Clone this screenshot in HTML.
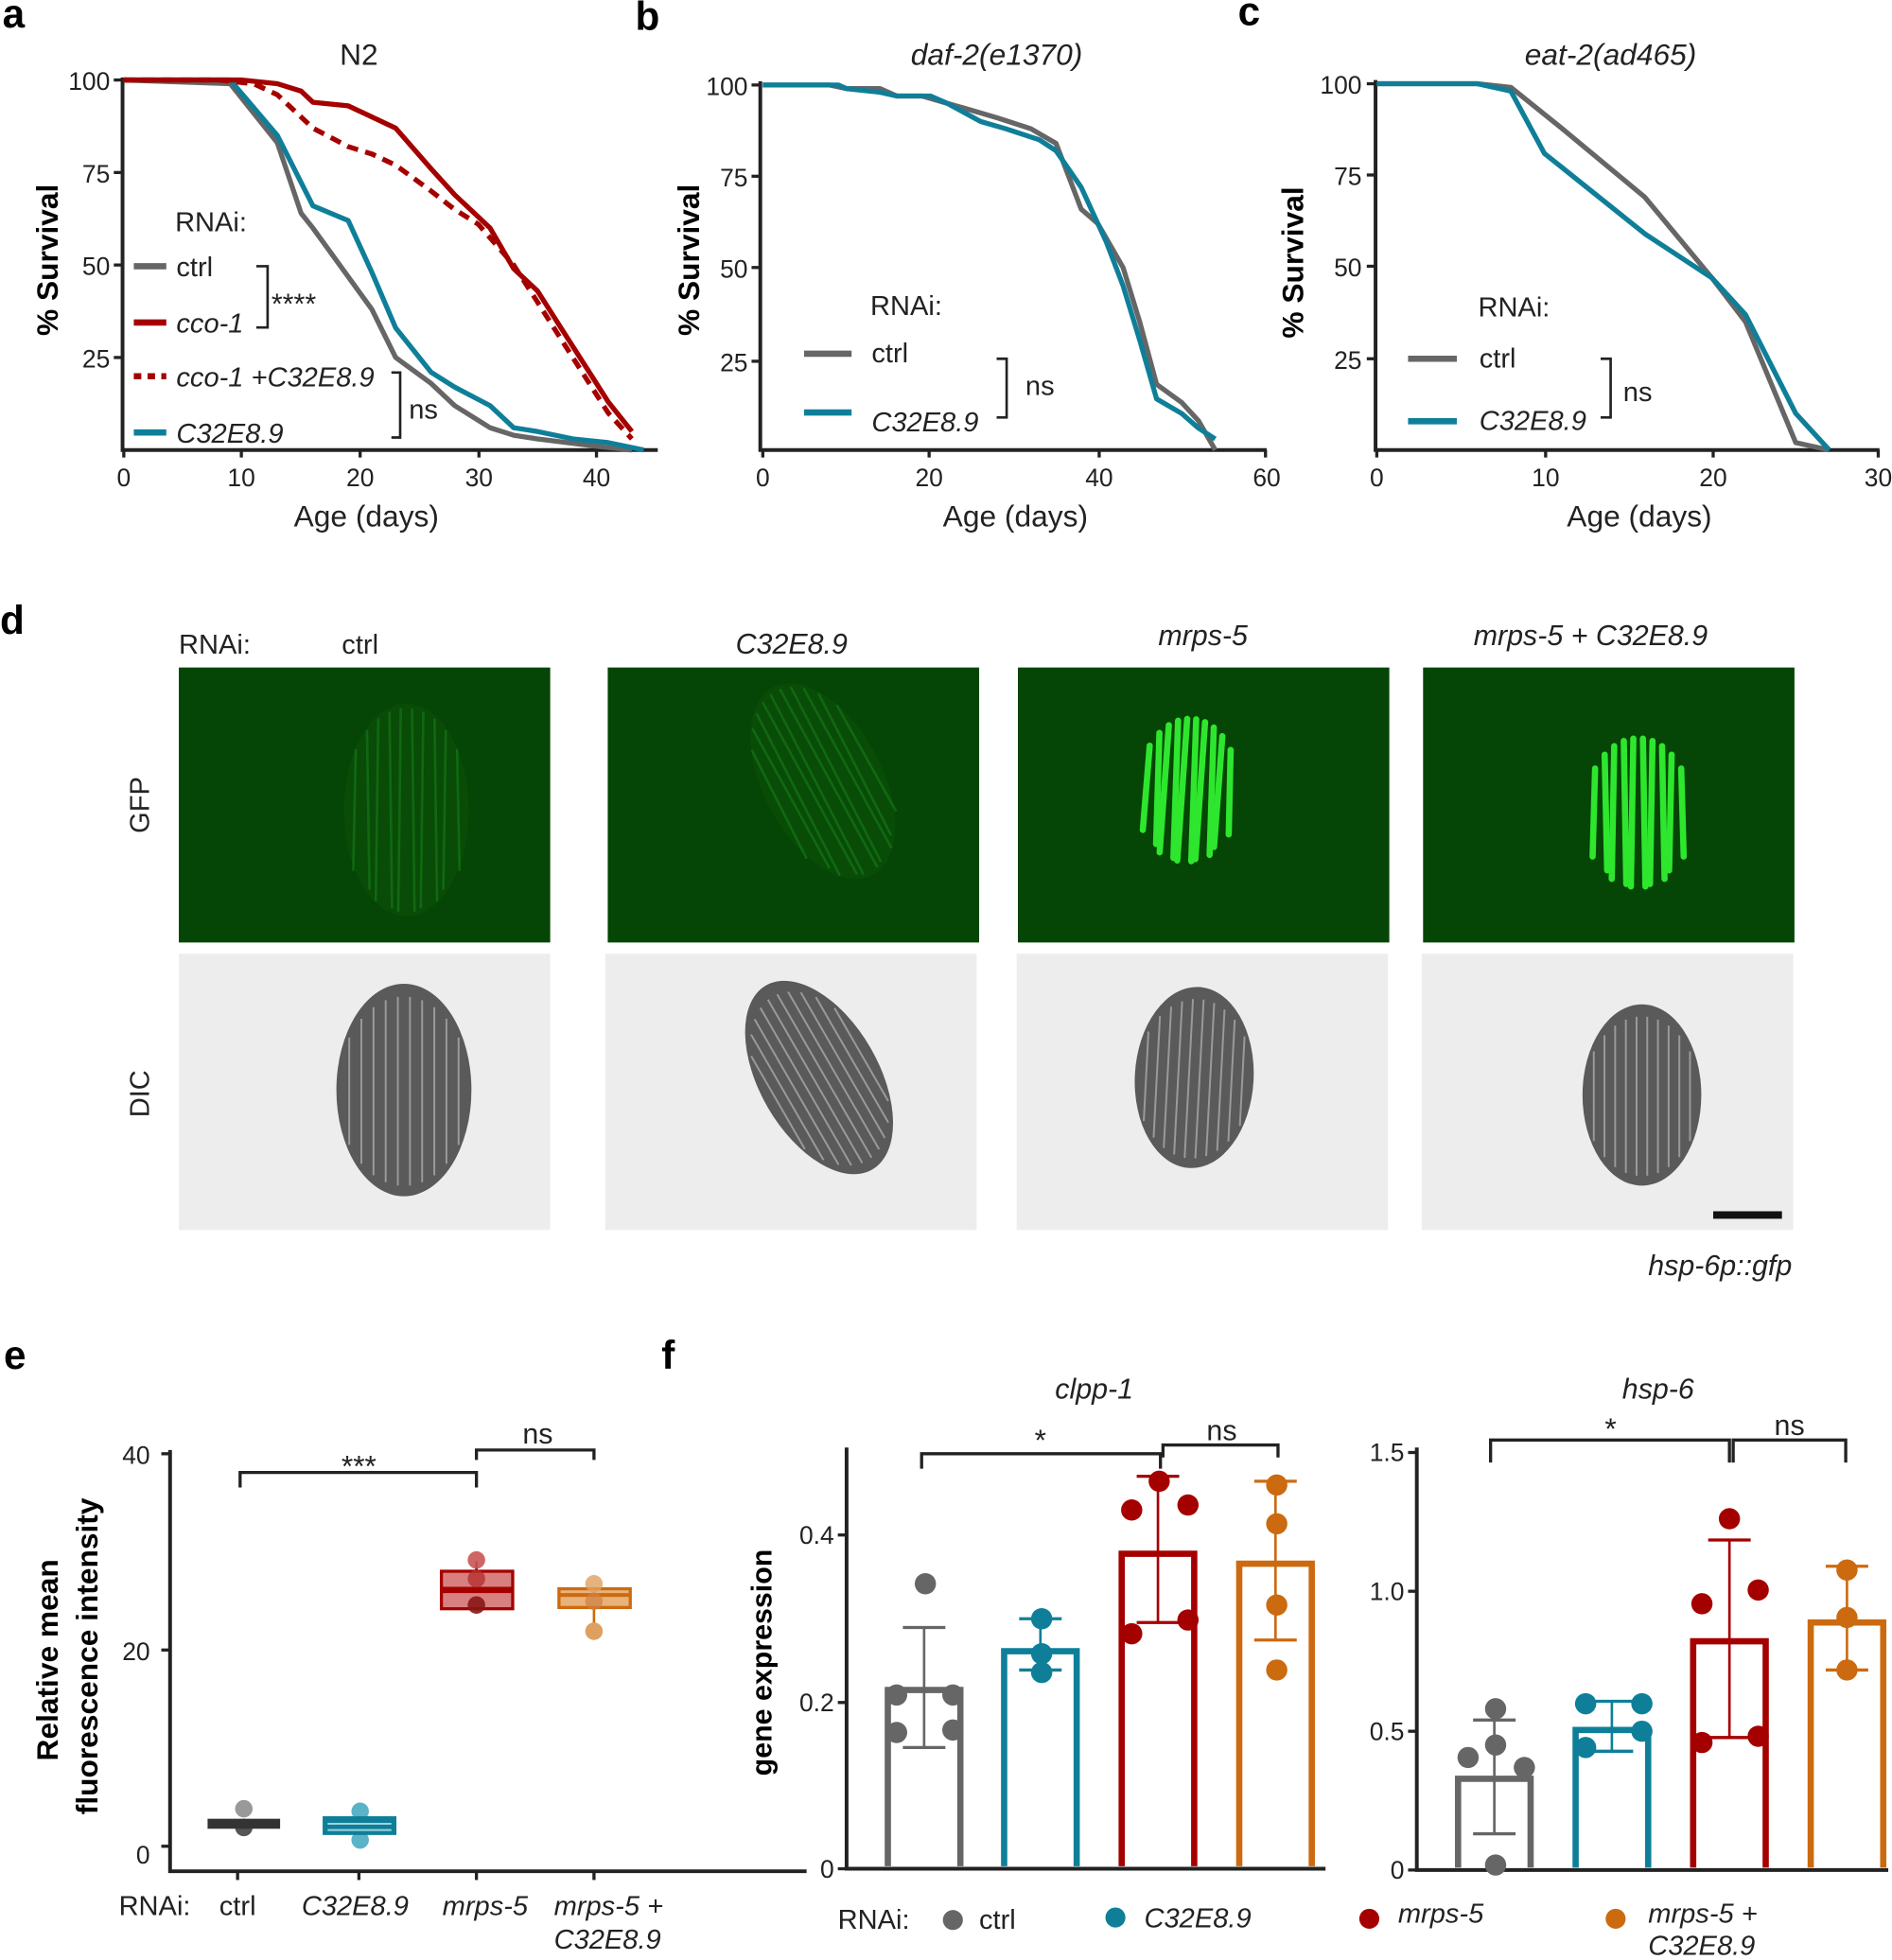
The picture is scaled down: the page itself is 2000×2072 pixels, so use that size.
<!DOCTYPE html>
<html><head><meta charset="utf-8"><style>
html,body{margin:0;padding:0;background:#fff;}
svg{display:block;}
text{font-family:"Liberation Sans",Arial,sans-serif;fill:#222;}
.t{font-size:20px;}
.ax{font-size:24px;}
.lab{font-size:32px;font-weight:bold;fill:#000;}
.it{font-style:italic;}
</style></head><body>
<svg id="s" width="2000" height="2072" viewBox="0 0 1513 1568" preserveAspectRatio="none" xmlns="http://www.w3.org/2000/svg">
<text class="lab" x="2" y="22">a</text>
<text class="lab" x="508" y="24">b</text>
<text class="lab" x="990" y="20">c</text>
<text class="lab" x="0" y="507">d</text>
<text class="lab" x="3" y="1095">e</text>
<text class="lab" x="529" y="1095">f</text>

<g id="pa">
<text class="ax" x="287" y="52" text-anchor="middle">N2</text>
<path d="M98,62 V360 H526" fill="none" stroke="#222" stroke-width="3"/>
<g stroke="#222" stroke-width="2.5"><line x1="91" y1="64" x2="98" y2="64"/><line x1="91" y1="138" x2="98" y2="138"/><line x1="91" y1="212" x2="98" y2="212"/><line x1="91" y1="286" x2="98" y2="286"/>
<line x1="99" y1="360" x2="99" y2="366"/><line x1="193" y1="360" x2="193" y2="366"/><line x1="288" y1="360" x2="288" y2="366"/><line x1="383" y1="360" x2="383" y2="366"/><line x1="477" y1="360" x2="477" y2="366"/></g>
<g class="t" text-anchor="end"><text x="88" y="72">100</text><text x="88" y="146">75</text><text x="88" y="220">50</text><text x="88" y="294">25</text></g>
<g class="t" text-anchor="middle"><text x="99" y="389">0</text><text x="193" y="389">10</text><text x="288" y="389">20</text><text x="383" y="389">30</text><text x="477" y="389">40</text></g>
<text class="ax" x="293" y="421" text-anchor="middle">Age (days)</text>
<text class="ax" x="0" y="0" transform="translate(46,208) rotate(-90)" text-anchor="middle" font-weight="bold" style="fill:#000">% Survival</text>
<text x="140" y="185" style="font-size:22px">RNAi:</text>
<line x1="107" y1="213" x2="133" y2="213" stroke="#666" stroke-width="5"/>
<line x1="107" y1="258" x2="133" y2="258" stroke="#a50000" stroke-width="5"/>
<line x1="107" y1="301" x2="133" y2="301" stroke="#a50000" stroke-width="5" stroke-dasharray="6,5"/>
<line x1="107" y1="346" x2="133" y2="346" stroke="#0f7f99" stroke-width="5"/>
<g style="font-size:22px"><text x="141" y="221">ctrl</text><text class="it" x="141" y="266">cco-1</text><text class="it" x="141" y="309">cco-1 +C32E8.9</text><text class="it" x="141" y="354">C32E8.9</text></g>
<path d="M205,213 H214 V262 H205" fill="none" stroke="#222" stroke-width="2"/>
<text x="217" y="251" style="font-size:23px">****</text>
<path d="M313,298 H320 V350 H313" fill="none" stroke="#222" stroke-width="2"/>
<text x="327" y="335" style="font-size:22px">ns</text>
</g>

<g>
<text class="ax it" x="797" y="52" text-anchor="middle">daf-2(e1370)</text>
<path d="M608,65 V360 H1013" fill="none" stroke="#222" stroke-width="3"/>
<g stroke="#222" stroke-width="2.5"><line x1="601" y1="68" x2="608" y2="68"/><line x1="601" y1="141" x2="608" y2="141"/><line x1="601" y1="214" x2="608" y2="214"/><line x1="601" y1="289" x2="608" y2="289"/>
<line x1="610" y1="360" x2="610" y2="366"/><line x1="743" y1="360" x2="743" y2="366"/><line x1="879" y1="360" x2="879" y2="366"/><line x1="1012" y1="360" x2="1012" y2="366"/></g>
<g class="t" text-anchor="end"><text x="598" y="76">100</text><text x="598" y="149">75</text><text x="598" y="222">50</text><text x="598" y="297">25</text></g>
<g class="t" text-anchor="middle"><text x="610" y="389">0</text><text x="743" y="389">20</text><text x="879" y="389">40</text><text x="1013" y="389">60</text></g>
<text class="ax" x="812" y="421" text-anchor="middle">Age (days)</text>
<text class="ax" x="0" y="0" transform="translate(559,208) rotate(-90)" text-anchor="middle" font-weight="bold" style="fill:#000">% Survival</text>
<text x="696" y="252" style="font-size:22px">RNAi:</text>
<line x1="643" y1="283" x2="681" y2="283" stroke="#666" stroke-width="5"/>
<line x1="643" y1="330" x2="681" y2="330" stroke="#0f7f99" stroke-width="5"/>
<text x="697" y="290" style="font-size:22px">ctrl</text><text class="it" x="697" y="345" style="font-size:22px">C32E8.9</text>
<path d="M797,287 H805 V334 H797" fill="none" stroke="#222" stroke-width="2"/>
<text x="820" y="316" style="font-size:22px">ns</text>
</g>

<g>
<text class="ax it" x="1288" y="52" text-anchor="middle">eat-2(ad465)</text>
<path d="M1100,64 V360 H1503" fill="none" stroke="#222" stroke-width="3"/>
<g stroke="#222" stroke-width="2.5"><line x1="1093" y1="67" x2="1100" y2="67"/><line x1="1093" y1="140" x2="1100" y2="140"/><line x1="1093" y1="213" x2="1100" y2="213"/><line x1="1093" y1="287" x2="1100" y2="287"/>
<line x1="1101" y1="360" x2="1101" y2="366"/><line x1="1236" y1="360" x2="1236" y2="366"/><line x1="1370" y1="360" x2="1370" y2="366"/><line x1="1502" y1="360" x2="1502" y2="366"/></g>
<g class="t" text-anchor="end"><text x="1089" y="75">100</text><text x="1089" y="148">75</text><text x="1089" y="221">50</text><text x="1089" y="295">25</text></g>
<g class="t" text-anchor="middle"><text x="1101" y="389">0</text><text x="1236" y="389">10</text><text x="1370" y="389">20</text><text x="1502" y="389">30</text></g>
<text class="ax" x="1311" y="421" text-anchor="middle">Age (days)</text>
<text class="ax" x="0" y="0" transform="translate(1042,210) rotate(-90)" text-anchor="middle" font-weight="bold" style="fill:#000">% Survival</text>
<text x="1182" y="253" style="font-size:22px">RNAi:</text>
<line x1="1126" y1="287" x2="1165" y2="287" stroke="#666" stroke-width="5"/>
<line x1="1126" y1="337" x2="1165" y2="337" stroke="#0f7f99" stroke-width="5"/>
<text x="1183" y="294" style="font-size:22px">ctrl</text><text class="it" x="1183" y="344" style="font-size:22px">C32E8.9</text>
<path d="M1280,287 H1288 V334 H1280" fill="none" stroke="#222" stroke-width="2"/>
<text x="1298" y="321" style="font-size:22px">ns</text>
</g>
<g id="curves"></g>

<text x="143" y="523" style="font-size:22px">RNAi:</text>
<text x="288" y="523" text-anchor="middle" style="font-size:22px">ctrl</text>
<text class="it" x="633" y="523" text-anchor="middle" style="font-size:23px">C32E8.9</text>
<text class="it" x="962" y="516" text-anchor="middle" style="font-size:23px">mrps-5</text>
<text class="it" x="1272" y="516" text-anchor="middle" style="font-size:23px">mrps-5 + C32E8.9</text>
<text x="0" y="0" transform="translate(119,644) rotate(-90)" text-anchor="middle" style="font-size:22px">GFP</text>
<text x="0" y="0" transform="translate(119,875) rotate(-90)" text-anchor="middle" style="font-size:22px">DIC</text>
<g id="imgs"></g>
<rect x="1370" y="969" width="55" height="6" fill="#111"/>
<text class="it" x="1433" y="1020" text-anchor="end" style="font-size:23px">hsp-6p::gfp</text>

<g>
<path d="M136,1160 V1497 H645" fill="none" stroke="#222" stroke-width="3"/>
<g stroke="#222" stroke-width="2.5"><line x1="129" y1="1163" x2="136" y2="1163"/><line x1="129" y1="1320" x2="136" y2="1320"/><line x1="129" y1="1477" x2="136" y2="1477"/>
<line x1="190" y1="1497" x2="190" y2="1504"/><line x1="287" y1="1497" x2="287" y2="1504"/><line x1="381" y1="1497" x2="381" y2="1504"/><line x1="475" y1="1497" x2="475" y2="1504"/></g>
<g class="t" text-anchor="end"><text x="120" y="1171">40</text><text x="120" y="1328">20</text><text x="120" y="1491">0</text></g>
<text x="0" y="0" transform="translate(46,1328) rotate(-90)" text-anchor="middle" font-weight="bold" style="font-size:24px;fill:#000">Relative mean</text>
<text x="0" y="0" transform="translate(78,1325) rotate(-90)" text-anchor="middle" font-weight="bold" style="font-size:24px;fill:#000">fluorescence intensity</text>
<g style="font-size:22px"><text x="95" y="1532">RNAi:</text><text x="190" y="1532" text-anchor="middle">ctrl</text>
<text class="it" x="284" y="1532" text-anchor="middle">C32E8.9</text><text class="it" x="388" y="1532" text-anchor="middle">mrps-5</text>
<text class="it" x="443" y="1532">mrps-5 +</text><text class="it" x="443" y="1559">C32E8.9</text></g>
<circle cx="195" cy="1447" r="7" fill="#999"/><circle cx="195" cy="1462" r="7" fill="#555"/>
<rect x="166" y="1455" width="58" height="8" fill="#333"/>
<circle cx="288" cy="1449" r="7" fill="#5ab3c6"/><circle cx="288" cy="1472" r="7" fill="#5ab3c6"/>
<rect x="259" y="1454" width="57" height="13" fill="#0f7f99" stroke="#0f7f99" stroke-width="2"/>
<line x1="262" y1="1459" x2="313" y2="1459" stroke="#9fd3df" stroke-width="1.5"/><line x1="262" y1="1464" x2="313" y2="1464" stroke="#9fd3df" stroke-width="1.5"/>
<rect x="353" y="1257" width="57" height="30" fill="#d88080" stroke="#a50000" stroke-width="2.5"/>
<line x1="381" y1="1249" x2="381" y2="1257" stroke="#a50000" stroke-width="2"/>
<line x1="353" y1="1272" x2="410" y2="1272" stroke="#a50000" stroke-width="5"/>
<circle cx="381" cy="1248" r="7" fill="#c95555" opacity="0.9"/><circle cx="381" cy="1263" r="7" fill="#b53030" opacity="0.8"/><circle cx="381" cy="1284" r="7" fill="#8a1515" opacity="0.9"/>
<rect x="447" y="1271" width="57" height="15" fill="#e8b27a" stroke="#cc6a10" stroke-width="2.5"/>
<line x1="447" y1="1276" x2="504" y2="1276" stroke="#cc6a10" stroke-width="3"/>
<line x1="475" y1="1286" x2="475" y2="1303" stroke="#cc6a10" stroke-width="2"/>
<circle cx="475" cy="1267" r="7" fill="#e0a060" opacity="0.8"/><circle cx="475" cy="1281" r="7" fill="#d08040" opacity="0.7"/><circle cx="475" cy="1305" r="7" fill="#dea060"/>
<path d="M192,1190 V1178 H381 V1190" fill="none" stroke="#222" stroke-width="2.5"/>
<text x="287" y="1181" text-anchor="middle" style="font-size:24px">***</text>
<path d="M381,1168 V1160 H475 V1168" fill="none" stroke="#222" stroke-width="2.5"/>
<text x="430" y="1155" text-anchor="middle" style="font-size:23px">ns</text>
</g>

<g id="pf"></g>
<text x="0" y="0" transform="translate(617,1330) rotate(-90)" text-anchor="middle" font-weight="bold" style="font-size:23px;fill:#000">gene expression</text>
<text class="it" x="875" y="1119" text-anchor="middle" style="font-size:23px">clpp-1</text>
<text class="it" x="1326" y="1119" text-anchor="middle" style="font-size:23px">hsp-6</text>
<path d="M737,1175 V1163 H928 V1175" fill="none" stroke="#222" stroke-width="2.5"/>
<text x="832" y="1160" text-anchor="middle" style="font-size:24px">*</text>
<path d="M930,1166 V1156 H1022 V1166" fill="none" stroke="#222" stroke-width="2.5"/>
<text x="977" y="1152" text-anchor="middle" style="font-size:23px">ns</text>
<path d="M1192,1170 V1152 H1383 V1170" fill="none" stroke="#222" stroke-width="2.5"/>
<text x="1288" y="1151" text-anchor="middle" style="font-size:24px">*</text>
<path d="M1386,1170 V1152 H1476 V1170" fill="none" stroke="#222" stroke-width="2.5"/>
<text x="1431" y="1148" text-anchor="middle" style="font-size:23px">ns</text>
<g style="font-size:22px">
<text x="670" y="1543">RNAi:</text>
<circle cx="762" cy="1536" r="8" fill="#666"/><text x="783" y="1543">ctrl</text>
<circle cx="892" cy="1534" r="8" fill="#0f7f99"/><text class="it" x="915" y="1542">C32E8.9</text>
<circle cx="1095" cy="1535" r="8" fill="#a50000"/><text class="it" x="1118" y="1538">mrps-5</text>
<circle cx="1292" cy="1535" r="8" fill="#cc6a10"/><text class="it" x="1318" y="1538">mrps-5 +</text><text class="it" x="1318" y="1564">C32E8.9</text>
</g>
</svg>
<script>
var NS="http://www.w3.org/2000/svg";
function el(p,t,a){var e=document.createElementNS(NS,t);for(var k in a)e.setAttribute(k,a[k]);p.appendChild(e);return e;}
var cv=document.getElementById('curves');
function curve(d,x0,xs,y0,ys,col,dash){var pts=d.map(function(p){return (x0+p[0]*xs).toFixed(1)+","+(y0-p[1]*ys).toFixed(1)}).join(" ");
var a={points:pts,fill:"none",stroke:col,"stroke-width":4,"stroke-linejoin":"round"};if(dash)a["stroke-dasharray"]="9,6";el(cv,"polyline",a);}
var G="#666",R="#a50000",T="#0f7f99";
var ax=99,axs=9.45,ay=360,ays=2.96;
curve([[0,100],[9,99],[13,83],[15,64],[16,60],[21,38],[23,25],[26,18],[28,12],[31,6],[33,4],[35,3],[40,1],[43,0]],ax,axs,ay,ays,G);
curve([[0,100],[9,100],[13,85],[16,66],[19,62],[21,48],[23,33],[26,21],[28,17],[31,12],[33,6],[35,5],[38,3],[41,2],[44,0]],ax,axs,ay,ays,T);
curve([[0,100],[10,100],[13,99],[15,97],[16,94],[19,93],[23,87],[26,76],[28,69],[31,60],[33,49],[35,43],[37,33],[39,23],[41,13],[43,5]],ax,axs,ay,ays,R);
curve([[0,100],[8,100],[11,99],[13,96],[15,90],[16,87],[19,82],[21,80],[23,77],[26,70],[28,65],[30,61],[33,50],[35,40],[37,30],[39,20],[41,10],[43,3]],ax,axs,ay,ays,R,1);
var bx=610,bxs=6.7,bys=2.92;
curve([[0,100],[8,100],[10,99],[14,99],[16,97],[19,97],[22,95],[25,93],[28,91],[32,88],[35,84],[38,66],[40,62],[43,50],[45,35],[47,18],[50,13],[52,8],[54,0]],bx,bxs,ay,bys,G);
curve([[0,100],[9,100],[10,99],[14,98],[16,97],[20,97],[22,95],[26,90],[29,88],[33,85],[35,82],[38,72],[41,57],[43,45],[45,30],[47,14],[50,10],[52,6],[54,3]],bx,bxs,ay,bys,T);
var cx=1101,cxs=13.4,cys=2.93;
curve([[0,100],[6,100],[8,99],[11,88],[16,69],[20,47],[22,35],[25,2],[27,0]],cx,cxs,ay,cys,G);
curve([[0,100],[6,100],[8,98],[10,81],[16,59],[20,47],[22,37],[25,10],[27,0]],cx,cxs,ay,cys,T);

var im=document.getElementById('imgs');
function panel(x,y,w,h,gfp,cx,cy,bw,bh,rot,bright){
 var g=el(im,"g",{});
 el(g,"rect",{x:x,y:y,width:w,height:h,fill:gfp?"#054505":"#ededed"});
 var cp="c"+x+"_"+y;var d=el(g,"clipPath",{id:cp});el(d,"rect",{x:x,y:y,width:w,height:h});
 var gg=el(g,"g",{"clip-path":"url(#"+cp+")",transform:"rotate("+rot+" "+cx+" "+cy+")"});
 if(!gfp){el(gg,"ellipse",{cx:cx,cy:cy,rx:bw/2,ry:bh/2,fill:"#5a5a5a"});}
 else if(!bright){el(gg,"ellipse",{cx:cx,cy:cy,rx:bw/2,ry:bh/2,fill:"#0a520a",opacity:0.6});}
 var n=10;
 for(var i=0;i<n;i++){
  var fx=(i+0.5)/n-0.5;var xx=cx+fx*bw*0.9;var hh=bh*Math.sqrt(1-4*fx*fx*0.8)*0.95;
  if(gfp){
   el(gg,"line",{x1:xx,y1:cy-hh/2,x2:xx+(i%2?2:-2),y2:cy+hh/2,stroke:bright?"#2ee62e":"#1d8a1d","stroke-width":bright?5:2,"stroke-linecap":"round",opacity:bright?1:0.45});
  }else{
   el(gg,"line",{x1:xx,y1:cy-hh/2+6,x2:xx,y2:cy+hh/2-4,stroke:"#9a9a9a","stroke-width":1.5});
  }
 }
}
panel(143,534,297,220,1,325,648,100,170,0,0);
panel(486,534,297,220,1,658,625,95,170,-28,0);
panel(814,534,297,220,1,950,632,80,120,3,1);
panel(1138,534,297,220,1,1310,650,85,125,0,1);
panel(143,763,297,221,0,323,872,108,170,0,0);
panel(484,763,297,221,0,655,862,95,170,-30,0);
panel(813,763,297,221,0,955,862,95,145,3,0);
panel(1137,763,297,221,0,1313,876,95,145,0,0);

var pf=document.getElementById('pf');
function axes(x0,x1,y0,ticks){
 el(pf,"path",{d:"M"+x0+",1158 V"+y0+" H"+x1,fill:"none",stroke:"#222","stroke-width":3});
 ticks.forEach(function(t){el(pf,"line",{x1:x0-7,y1:t[1],x2:x0,y2:t[1],stroke:"#222","stroke-width":2.5});
 var tx=el(pf,"text",{x:x0-10,y:t[1]+7,"text-anchor":"end","class":"t"});tx.textContent=t[0];});
}
axes(677,1060,1495,[["0",1495],["0.2",1362],["0.4",1228]]);
axes(1133,1510,1496,[["0",1496],["0.5",1385],["1.0",1273],["1.5",1162]]);
function bar(x,top,base,col,elo,ehi,dots){
 el(pf,"path",{d:"M"+x+","+base+" V"+top+" H"+(x+58)+" V"+base,fill:"none",stroke:col,"stroke-width":5});
 var c=x+29;
 el(pf,"line",{x1:c,y1:elo,x2:c,y2:ehi,stroke:col,"stroke-width":2});
 el(pf,"line",{x1:c-17,y1:elo,x2:c+17,y2:elo,stroke:col,"stroke-width":2.5});
 el(pf,"line",{x1:c-17,y1:ehi,x2:c+17,y2:ehi,stroke:col,"stroke-width":2.5});
 dots.forEach(function(d){el(pf,"circle",{cx:d[0],cy:d[1],r:8.5,fill:col});});
}
bar(710,1352,1493,"#666",1398,1302,[[740,1267],[717,1356],[762,1356],[717,1386],[762,1384]]);
bar(803,1321,1493,"#0f7f99",1336,1295,[[833,1295],[833,1323],[833,1338]]);
bar(897,1243,1493,"#a50000",1298,1181,[[927,1185],[905,1208],[950,1204],[905,1307],[950,1296]]);
bar(991,1251,1493,"#cc6a10",1312,1185,[[1021,1188],[1021,1219],[1021,1284],[1021,1336]]);
bar(1166,1423,1494,"#666",1467,1376,[[1196,1367],[1196,1396],[1174,1406],[1219,1414],[1196,1492]]);
bar(1260,1384,1494,"#0f7f99",1401,1361,[[1268,1363],[1313,1363],[1268,1398],[1313,1385]]);
bar(1354,1313,1494,"#a50000",1390,1232,[[1383,1215],[1361,1283],[1406,1272],[1361,1394],[1406,1389]]);
bar(1448,1298,1494,"#cc6a10",1336,1253,[[1477,1256],[1477,1294],[1477,1336]]);
</script>
</body></html>
